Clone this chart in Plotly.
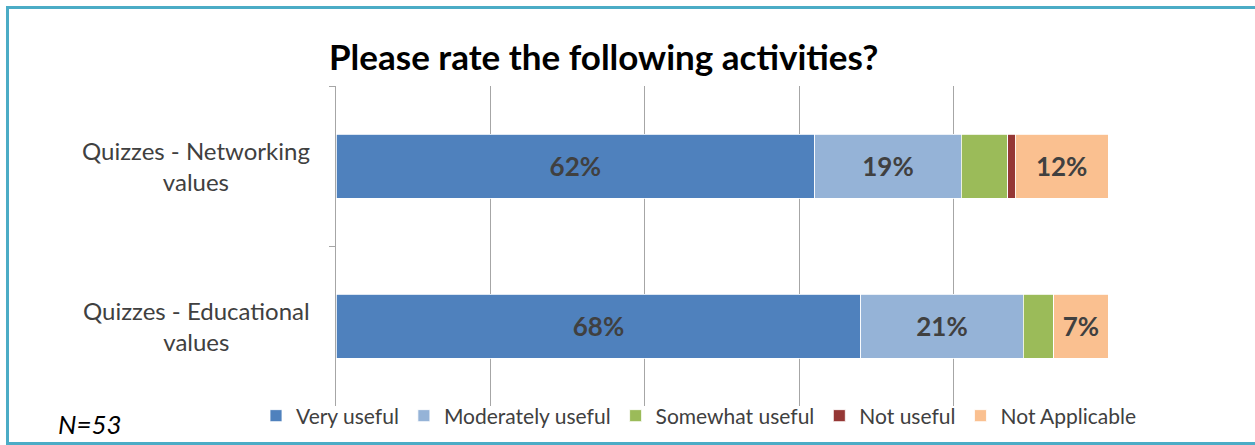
import plotly.graph_objects as go

# ---- data ----
categories = ["Quizzes - Networking values", "Quizzes - Educational values"]
category_labels = ["Quizzes - Networking<br>values", "Quizzes - Educational<br>values"]
series_names = ["Very useful", "Moderately useful", "Somewhat useful", "Not useful", "Not Applicable"]
very_useful = [62, 68]
moderately_useful = [19, 21]
somewhat_useful = [6, 4]
not_useful = [1, 0]
not_applicable = [12, 7]
series_values = [very_useful, moderately_useful, somewhat_useful, not_useful, not_applicable]
colors = ["#4F81BD", "#95B3D7", "#9BBB59", "#953735", "#FAC090"]
title_text = "Please rate the following activities?"
note_text = "N=53"
label_min = 7  # values smaller than this are not labelled

# ---- layout geometry (pixels) ----
W, H = 1255, 445
L, R, T, B = 336, 147, 86, 39
PW, PH = W - L - R, H - T - B


def px_x(p):
    return (p - L) / PW


def px_y(p):
    return (H - B - p) / PH


FONT = "Lato"
TXT = "#404040"

fig = go.Figure()
for name, vals, col in zip(series_names, series_values, colors):
    fig.add_trace(go.Bar(
        y=categories, x=vals, name=name, orientation="h",
        marker=dict(color=col, line=dict(color="white", width=0.8)),
        text=[f"{v}%" if v >= label_min else "" for v in vals],
        textposition="inside", insidetextanchor="middle", textangle=0,
        constraintext="none",
        textfont=dict(family=FONT, size=26, color=TXT, weight="bold"),
        hoverinfo="skip",
    ))

annotations = []
for cat, lab in zip(categories, category_labels):
    annotations.append(dict(
        x=px_x(196), xref="paper", y=cat, yref="y", text=lab, showarrow=False,
        xanchor="center", yanchor="middle", align="center",
        font=dict(family=FONT, size=24, color=TXT)))
annotations.append(dict(
    x=px_x(90), xref="paper", y=px_y(424), yref="paper", text=f"<i>{note_text}</i>",
    showarrow=False, xanchor="center", yanchor="middle",
    font=dict(family=FONT, size=26, color="black")))
annotations.append(dict(
    x=px_x(603), xref="paper", y=px_y(56), yref="paper", text=f"<b>{title_text}</b>",
    showarrow=False, xanchor="center", yanchor="middle",
    font=dict(family=FONT, size=35, color="black")))

fig.update_layout(
    width=W, height=H,
    margin=dict(l=L, r=R, t=T, b=B, autoexpand=False),
    paper_bgcolor="white", plot_bgcolor="white",
    barmode="stack", bargap=0.6,
    showlegend=True,
    legend=dict(orientation="h", x=px_x(256), xanchor="left", y=px_y(416), yanchor="middle",
                font=dict(family=FONT, size=21, color=TXT), itemwidth=30,
                bgcolor="rgba(0,0,0,0)", traceorder="normal"),
    xaxis=dict(range=[0, 100], dtick=20, showgrid=True, gridcolor="#A6A6A6", gridwidth=1,
               showticklabels=False, zeroline=False, showline=False, ticks="", fixedrange=True),
    yaxis=dict(autorange="reversed", showticklabels=False, showgrid=False, zeroline=False,
               showline=True, linecolor="#A6A6A6", linewidth=1,
               ticks="outside", ticklen=6, tickcolor="#A6A6A6", tickson="boundaries",
               fixedrange=True),
    annotations=annotations,
    shapes=[dict(type="rect", xref="paper", yref="paper",
                 x0=px_x(7.5), x1=px_x(1270), y0=px_y(443.5), y1=px_y(7.5),
                 line=dict(color="#4BACC6", width=3), layer="above")],
)

fig.write_html("out.html", config={"displayModeBar": False},
               post_script="document.body.style.margin='0';document.body.style.overflow='hidden';")
